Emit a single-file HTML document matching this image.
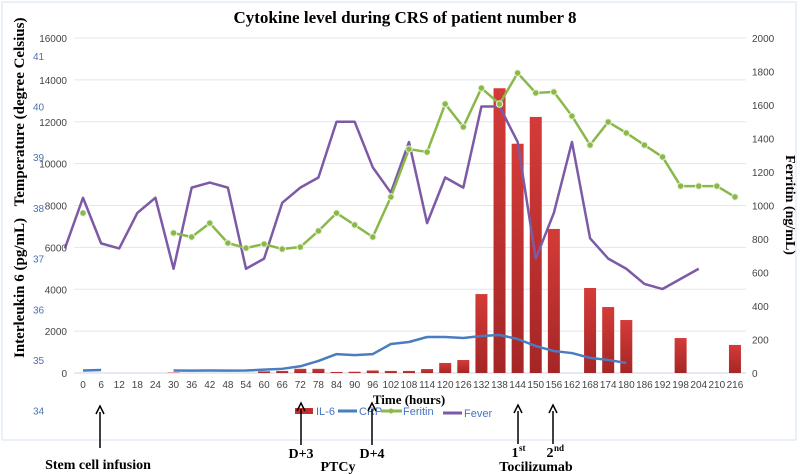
<!DOCTYPE html>
<html><head><meta charset="utf-8"><style>
body{margin:0;background:#fff}
svg{display:block;font-family:"Liberation Sans",sans-serif}
.serif{font-family:"Liberation Serif",serif;font-weight:bold}
</style></head><body>
<svg id="chart" width="800" height="474" viewBox="0 0 800 474">
<rect x="2" y="2" width="794" height="438" fill="#fff" stroke="#d6e3f3" stroke-width="1"/>
<text x="405" y="23" text-anchor="middle" class="serif" font-size="17">Cytokine level during CRS of patient number 8</text>
<g id="grid"></g><g id="bars"></g><g id="lines"></g><g id="axes"></g>
<text transform="translate(24,112) rotate(-90)" text-anchor="middle" class="serif" font-size="15">Temperature (degree Celsius)</text>
<text transform="translate(24,288) rotate(-90)" text-anchor="middle" class="serif" font-size="15">Interleukin 6 (pg/mL)</text>
<text transform="translate(786,205) rotate(90)" text-anchor="middle" class="serif" font-size="14">Ferritin (ng/mL)</text>
<text x="409" y="404" text-anchor="middle" class="serif" font-size="13">Time (hours)</text>
<g font-size="11">
<rect x="295" y="408" width="18" height="6" fill="#c0302f"/>
<text x="316" y="415" fill="#4472c4">IL-6</text>
<line x1="338" y1="411" x2="357" y2="411" stroke="#4a7cc0" stroke-width="3"/>
<text x="359" y="415" fill="#4472c4">CRP</text>
<line x1="381" y1="411" x2="402" y2="411" stroke="#8ab84a" stroke-width="3"/>
<circle cx="391" cy="411" r="2.5" fill="#8ab84a"/>
<text x="403" y="415" fill="#4472c4">Feritin</text>
<line x1="443" y1="413" x2="462" y2="413" stroke="#7d5aa6" stroke-width="3"/>
<text x="464" y="417" fill="#4472c4">Fever</text>
</g>
<g id="annot" class="serif" font-size="14"></g>
</svg>
<script>
const categories=[0,6,12,18,24,30,36,42,48,54,60,66,72,78,84,90,96,102,108,114,120,126,132,138,144,150,156,162,168,174,180,186,192,198,204,210,216];
const il6=[0,0,0,0,0,20,0,0,0,0,80,100,200,200,50,60,120,100,100,190,480,620,3770,13600,10950,12230,6880,0,4060,3150,2530,0,0,1670,0,0,1340];
const crp=[15,18,null,null,null,15,14,15,14,15,20,25,40,72,113,107,113,173,185,215,215,209,221,227,203,161,131,119,90,78,60,null,null,null,null,null,null];
const ferritin=[955,null,null,null,null,836,812,895,776,746,770,740,752,848,955,884,812,1051,1337,1319,1606,1469,1701,1606,1791,1672,1678,1534,1361,1499,1433,1361,1290,1116,1116,1116,1051];
const feverStart=37.2;
const fever=[38.2,37.3,37.2,37.9,38.2,36.8,38.4,38.5,38.4,36.8,37.0,38.1,38.4,38.6,39.7,39.7,38.8,38.3,39.3,37.7,38.6,38.4,40.0,40.0,39.3,37.0,37.9,39.3,37.4,37.0,36.8,36.5,36.4,36.6,36.8,null,null];
const leftTicks=[0,2000,4000,6000,8000,10000,12000,14000,16000];
const rightTicks=[0,200,400,600,800,1000,1200,1400,1600,1800,2000];
const tempTicks=[34,35,36,37,38,39,40,41];

const NS="http://www.w3.org/2000/svg";
const X0=83,DX=18.11,YB=373,YT=38;
const xs=i=>X0+i*DX;
const yL=v=>YB-v/16000*(YB-YT);
const yR=v=>YB-v/2000*(YB-YT);
const yT=t=>360-(t-35)*50.7;
function mk(tag,a,parent){const e=document.createElementNS(NS,tag);for(const k in a)e.setAttribute(k,a[k]);parent.appendChild(e);return e;}
const g=document.getElementById('grid'),b=document.getElementById('bars'),l=document.getElementById('lines'),ax=document.getElementById('axes');
leftTicks.forEach(v=>{
 const ln=mk('line',{x1:74,x2:746,y1:yL(v),y2:yL(v),stroke:v===0?'#c9d6e8':'#dce7f5','stroke-width':1},g);
 
 
 const t=mk('text',{x:67,y:yL(v)+4,'text-anchor':'end','font-size':10,fill:'#444'},ax);t.textContent=v;
 
 
});
rightTicks.forEach(v=>{
 const t=mk('text',{x:752,y:yR(v)+4,'font-size':10,fill:'#444'},ax);t.textContent=v;
 
 
});
tempTicks.forEach(v=>{
 const t=mk('text',{x:33,y:yT(v)+4,'font-size':10,fill:'#4a72b0'},ax);t.textContent=v;
 
 
});
categories.forEach((c,i)=>{
 const t=mk('text',{x:xs(i),y:388,'text-anchor':'middle','font-size':10,fill:'#444'},ax);t.textContent=c;
 
 
});
const defs=mk('defs',{},document.getElementById('chart'));
const gr=mk('linearGradient',{id:'bg',x1:0,y1:0,x2:0,y2:1},defs);
mk('stop',{offset:'0','stop-color':'#d43b38'},gr);mk('stop',{offset:'1','stop-color':'#a52626'},gr);
il6.forEach((v,i)=>{
 if(!v)return;
 const r=mk('rect',{x:xs(i)-6,y:yL(v),width:12,height:YB-yL(v),fill:'url(#bg)'},b);
 
 
});
function path(vals,fx,fy,color,w,name){
 let d='',pen=false;
 vals.forEach((v,i)=>{if(v==null){pen=false;return;}d+=(pen?'L':'M')+fx(i)+' '+fy(v)+' ';pen=true;});
 const p=mk('path',{d:d,fill:'none',stroke:color,'stroke-width':w,'stroke-linejoin':'round'},l);
 
 
}
path(crp,xs,yR,'#4a7cc0',2.5,'crp-line');
path([feverStart].concat(fever),i=>xs(i-1),yT,'#7d5aa6',2.5,'fever-line');
path(ferritin,xs,yR,'#8ab84a',2.5,'ferritin-line');
ferritin.forEach((v,i)=>{if(v==null)return;
 const c=mk('circle',{cx:xs(i),cy:yR(v),r:3.2,fill:'#8ab84a',stroke:'#e8f2d8','stroke-width':1},l);
 
 
});
const an=document.getElementById('annot');
[[100,406,448],[301,403,445],[372,403,445],[518,405,444],[553,405,444]].forEach(a=>{
 const ln=mk('line',{x1:a[0],x2:a[0],y1:a[1]+6,y2:a[2],stroke:'#000','stroke-width':1.5},an);
 
 
 mk('path',{d:`M${a[0]-4} ${a[1]+8} L${a[0]} ${a[1]} L${a[0]+4} ${a[1]+8}`,fill:'none',stroke:'#000','stroke-width':1.5},an);
});
[['Stem cell infusion',98,469,'stem-cell-label'],['D+3',301,458,'d3-label'],['D+4',372,458,'d4-label'],['PTCy',338,471,'ptcy-label'],['Tocilizumab',536,471,'tocilizumab-label']].forEach(a=>{
 const t=mk('text',{x:a[1],y:a[2],'text-anchor':'middle'},an);t.textContent=a[0];
 
 
});
[['1','st',518],['2','nd',553]].forEach(a=>{
 const t=mk('text',{x:a[2]-3,y:457,'text-anchor':'middle'},an);t.textContent=a[0];
 
 
 const s=mk('text',{x:a[2]+1,y:451,'font-size':9},an);s.textContent=a[1];
});
</script>
</body></html>
